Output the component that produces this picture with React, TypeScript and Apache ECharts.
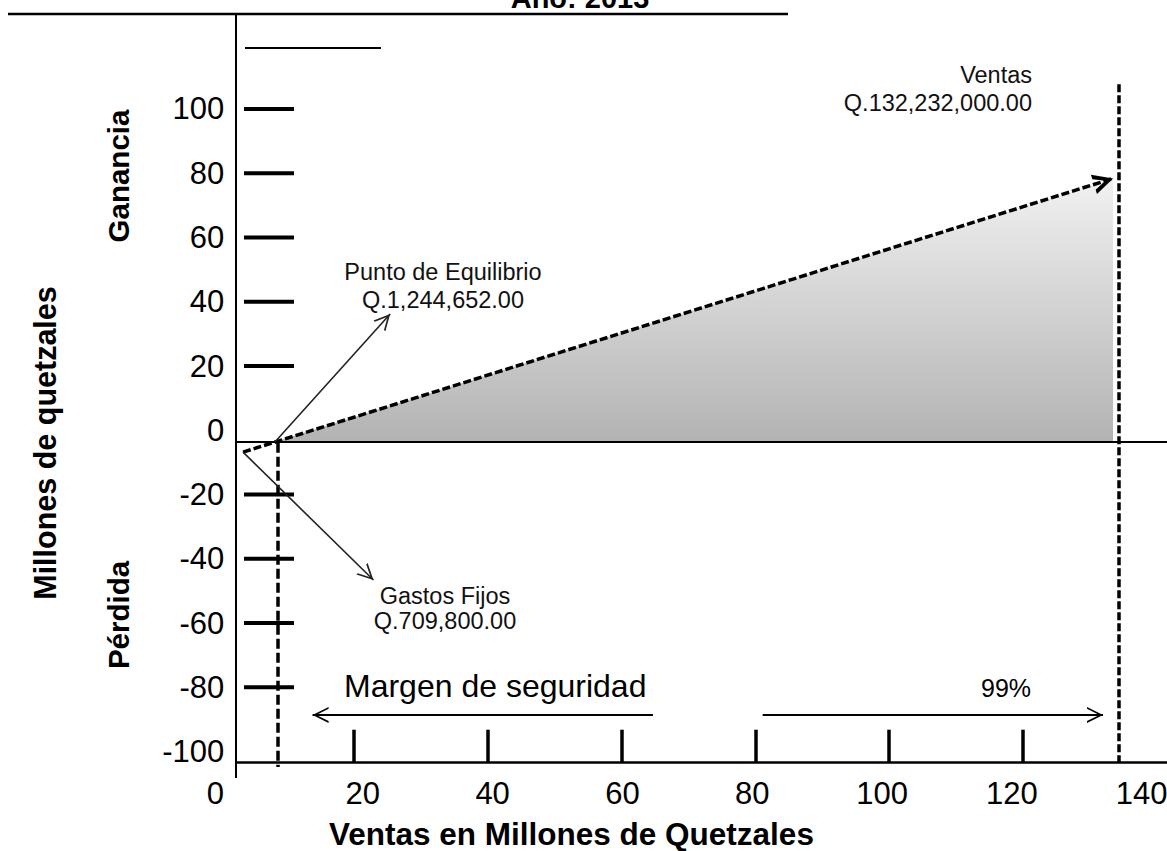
import React, { useEffect, useRef } from "react";
import * as echarts from "echarts";

// ---- axis values ----
const xLabelValues = [20, 40, 60, 80, 100, 120, 140];
const xTickValues = [20, 40, 60, 80, 100, 120];
const yLabelValues = [-100, -80, -60, -40, -20, 0, 20, 40, 60, 80, 100];
const yTickValues = [100, 80, 60, 40, 20, -20, -40, -60, -80];

// ---- diagram values (millions of quetzales) ----
const fixedCostPoint = [3.4, -6.8];
const breakEvenPoint = [8.2, -3.55];
const salesEndPoint = [133.5, 78.4];
const zeroProfitLevel = -3.55;
const xAxisLevel = -103.4;
const yAxisAt = 2.27;
const yAxisBottom = -108.2;
const yAxisTop = 129.6;
const breakEvenLineX = 8.55;
const breakEvenLineBottom = -104.8;
const salesLineX = 134.3;
const salesLineTop = 107.7;
const equilibrioArrowTip = [25.4, 36.2];
const gastosArrowTip = [22.9, -46.6];
const marginArrowY = -88.6;
const marginLeftArrow = [64.7, 13.8];
const marginRightArrow = [81.1, 132.0];
const yTickMarkX = 7.28;

const FONT = "'Liberation Sans', Arial, sans-serif";
const CHEVRON =
  "path://M10,-20L10.01,-20L10.01,-19.99Z M0,20L10,0L20,20L17.6,20L10,4.6L2.4,20Z";
const CHEVRON_BOLD =
  "path://M10,-20L10.01,-20L10.01,-19.99Z M0,20L10,0L20,20L15.5,20L10,8L4.5,20Z";

const seg = (a: number[], b: number[], lineStyle: any, endSymbol?: string, size?: number[]) => [
  { coord: a, symbol: "none", lineStyle },
  { coord: b, symbol: endSymbol || "none", symbolSize: size || [14, 28] },
];

const txt = (text: string, x: number, y: number, font: string, align: string, extra: any = {}) => ({
  type: "text",
  x,
  y,
  ...extra,
  style: {
    text,
    font,
    fill: extra.fill || "#000",
    lineHeight: extra.lineHeight,
    align,
    verticalAlign: "middle",
    textAlign: align,
    textVerticalAlign: "middle",
  },
});

export default function App() {
  const ref = useRef<HTMLDivElement>(null);
  useEffect(() => {
    if (!ref.current) return;
    const chart = echarts.init(ref.current, null, { renderer: "svg" });
    const black = "#000";
    const option: any = {
      animation: false,
      textStyle: { fontFamily: FONT },
      grid: {
        left: 220.3,
        top: 12.6,
        width: 949.6,
        height: 771.1,
        containLabel: false,
        outerBoundsMode: "none",
      },
      xAxis: [
        {
          type: "value",
          min: 0,
          max: 142,
          position: "bottom",
          offset: -21,
          axisLine: { show: false, onZero: false },
          axisTick: {
            show: true,
            inside: true,
            length: 33,
            customValues: xTickValues,
            lineStyle: { color: black, width: 3.5 },
          },
          axisLabel: { show: false },
          splitLine: { show: false },
        },
        {
          type: "value",
          min: -1.96,
          max: 144.36,
          position: "bottom",
          offset: -21,
          axisLine: { show: false, onZero: false },
          axisTick: { show: false },
          splitLine: { show: false },
          axisLabel: {
            customValues: xLabelValues,
            margin: 15,
            fontSize: 31,
            color: black,
            fontFamily: FONT,
          },
        },
      ],
      yAxis: {
        type: "value",
        min: -110,
        max: 130,
        offset: -15,
        axisLine: { show: false, onZero: false },
        axisTick: { show: false },
        splitLine: { show: false },
        axisLabel: {
          customValues: yLabelValues,
          margin: 11,
          fontSize: 31,
          color: black,
          fontFamily: FONT,
          padding: [0, 0, 16, 0],
        },
      },
      graphic: [
        txt("Año: 2013", 580, -2, `bold 29px ${FONT}`, "center"),
        { type: "line", shape: { x1: 8, y1: 14, x2: 788, y2: 14 }, style: { stroke: black, lineWidth: 2.5 } },
        { type: "line", shape: { x1: 245, y1: 48, x2: 381, y2: 48 }, style: { stroke: black, lineWidth: 2 } },
        txt("0", 224, 793, `31px ${FONT}`, "right"),
        txt("Punto de Equilibrio\nQ.1,244,652.00", 443, 286, `23.5px ${FONT}`, "center", { lineHeight: 28, fill: "#111" }),
        txt("Gastos Fijos\nQ.709,800.00", 445, 608, `23.5px ${FONT}`, "center", { lineHeight: 25, fill: "#111" }),
        txt("Ventas\nQ.132,232,000.00", 1032, 89, `23.5px ${FONT}`, "right", { lineHeight: 28, fill: "#111" }),
        txt("Margen de seguridad", 344, 686, `32px ${FONT}`, "left"),
        txt("99%", 1006, 688, `25px ${FONT}`, "center"),
        txt("Ventas en Millones de Quetzales", 329, 834, `bold 31.5px ${FONT}`, "left"),
        txt("Millones de quetzales", 45, 443, `bold 30.5px ${FONT}`, "center", { rotation: Math.PI / 2 }),
        txt("Ganancia", 118, 176, `bold 29.5px ${FONT}`, "center", { rotation: Math.PI / 2 }),
        txt("Pérdida", 118, 615, `bold 29.5px ${FONT}`, "center", { rotation: Math.PI / 2 }),
      ],
      series: [
        {
          name: "Ganancia",
          type: "line",
          xAxisIndex: 0,
          data: [breakEvenPoint, salesEndPoint],
          symbol: "none",
          silent: true,
          lineStyle: { width: 0 },
          areaStyle: {
            origin: zeroProfitLevel,
            opacity: 1,
            color: new echarts.graphic.LinearGradient(0, 0, 0, 1, [
              { offset: 0, color: "#f1f1f1" },
              { offset: 1, color: "#b3b3b3" },
            ]),
          },
          markLine: {
            silent: true,
            animation: false,
            label: { show: false },
            emphasis: { disabled: true },
            data: [
              seg([yAxisAt, yAxisBottom], [yAxisAt, yAxisTop], { color: black, width: 2, type: "solid" }),
              seg([yAxisAt, xAxisLevel], [142, xAxisLevel], { color: black, width: 2.5, type: "solid" }),
              seg([yAxisAt, zeroProfitLevel], [142, zeroProfitLevel], { color: black, width: 2, type: "solid" }),
              seg(fixedCostPoint, salesEndPoint, { color: black, width: 3.5, type: [8, 3] }, CHEVRON_BOLD, [20, 40]),
              seg([breakEvenLineX, -3.9], [breakEvenLineX, breakEvenLineBottom], { color: black, width: 3.5, type: [10, 4] }),
              seg([salesLineX, salesLineTop], [salesLineX, xAxisLevel], { color: black, width: 3.5, type: [8, 3] }),
              seg(breakEvenPoint, equilibrioArrowTip, { color: "#222", width: 1.6, type: "solid" }, CHEVRON, [16, 32]),
              seg(fixedCostPoint, gastosArrowTip, { color: "#222", width: 1.6, type: "solid" }, CHEVRON, [16, 32]),
              seg([marginLeftArrow[0], marginArrowY], [marginLeftArrow[1], marginArrowY], { color: black, width: 2, type: "solid" }, CHEVRON, [16, 32]),
              seg([marginRightArrow[0], marginArrowY], [marginRightArrow[1], marginArrowY], { color: black, width: 2, type: "solid" }, CHEVRON, [16, 32]),
            ],
          },
        },
        {
          name: "ticks",
          type: "scatter",
          xAxisIndex: 0,
          silent: true,
          symbol: "rect",
          symbolSize: [50, 4],
          itemStyle: { color: black, opacity: 1 },
          data: yTickValues.map((v) => [yTickMarkX, v]),
        },
      ],
    };
    chart.setOption(option);
    return () => chart.dispose();
  }, []);
  return (
    <div
      ref={ref}
      style={{ position: "absolute", left: 0, top: 0, width: 1167, height: 851, background: "#fff" }}
    />
  );
}
